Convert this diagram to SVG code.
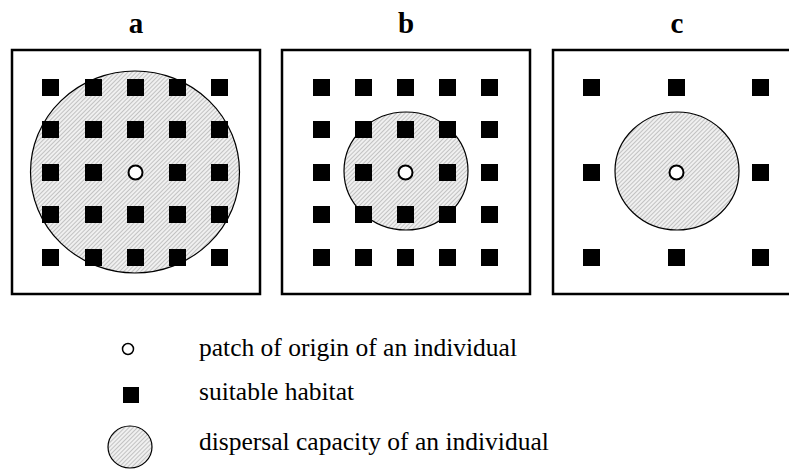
<svg xmlns="http://www.w3.org/2000/svg" width="789" height="469" viewBox="0 0 789 469">
  <defs>
    <pattern id="hatch" width="3" height="3" patternUnits="userSpaceOnUse" patternTransform="rotate(45)">
      <rect width="3" height="3" fill="#f0f0f0"/>
      <line x1="0" y1="0" x2="0" y2="3" stroke="#959595" stroke-width="1"/>
    </pattern>
    <rect id="sq" width="17" height="17" fill="#000"/>
  </defs>
  <style>
    .frame { fill: #fff; stroke: #000; stroke-width: 2.5; }
    .range { fill: url(#hatch); stroke: #000; stroke-width: 1.2; }
    .origin { fill: #fff; stroke: #000; stroke-width: 2; }
    .title { font-family: "Liberation Serif", "Times New Roman", serif; font-weight: bold; font-size: 29px; text-anchor: middle; fill: #000; }
    .key { font-family: "Liberation Serif", "Times New Roman", serif; font-size: 25.5px; fill: #000; }
  </style>
  <rect width="789" height="469" fill="#fff"/>

  <!-- panel a: large dispersal range -->
  <g id="panel-a">
    <text class="title" x="136" y="33">a</text>
    <rect class="frame" x="12" y="50" width="248" height="244"/>
    <ellipse class="range" cx="135" cy="172" rx="104.5" ry="101"/>
    <g>
      <use href="#sq" x="42" y="79"/><use href="#sq" x="85" y="79"/><use href="#sq" x="127" y="79"/><use href="#sq" x="169" y="79"/><use href="#sq" x="211" y="79"/>
      <use href="#sq" x="42" y="121"/><use href="#sq" x="85" y="121"/><use href="#sq" x="127" y="121"/><use href="#sq" x="169" y="121"/><use href="#sq" x="211" y="121"/>
      <use href="#sq" x="42" y="164"/><use href="#sq" x="85" y="164"/><use href="#sq" x="169" y="164"/><use href="#sq" x="211" y="164"/>
      <use href="#sq" x="42" y="206"/><use href="#sq" x="85" y="206"/><use href="#sq" x="127" y="206"/><use href="#sq" x="169" y="206"/><use href="#sq" x="211" y="206"/>
      <use href="#sq" x="42" y="249"/><use href="#sq" x="85" y="249"/><use href="#sq" x="127" y="249"/><use href="#sq" x="169" y="249"/><use href="#sq" x="211" y="249"/>
    </g>
    <circle class="origin" cx="135.5" cy="172.5" r="7"/>
  </g>

  <!-- panel b: smaller dispersal range, dense habitat -->
  <g id="panel-b">
    <text class="title" x="406" y="33">b</text>
    <rect class="frame" x="282" y="50" width="248" height="244"/>
    <ellipse class="range" cx="406" cy="171" rx="62" ry="59"/>
    <g>
      <use href="#sq" x="313" y="79"/><use href="#sq" x="355" y="79"/><use href="#sq" x="397" y="79"/><use href="#sq" x="439" y="79"/><use href="#sq" x="481" y="79"/>
      <use href="#sq" x="313" y="121"/><use href="#sq" x="355" y="121"/><use href="#sq" x="397" y="121"/><use href="#sq" x="439" y="121"/><use href="#sq" x="481" y="121"/>
      <use href="#sq" x="313" y="164"/><use href="#sq" x="355" y="164"/><use href="#sq" x="439" y="164"/><use href="#sq" x="481" y="164"/>
      <use href="#sq" x="313" y="206"/><use href="#sq" x="355" y="206"/><use href="#sq" x="397" y="206"/><use href="#sq" x="439" y="206"/><use href="#sq" x="481" y="206"/>
      <use href="#sq" x="313" y="249"/><use href="#sq" x="355" y="249"/><use href="#sq" x="397" y="249"/><use href="#sq" x="439" y="249"/><use href="#sq" x="481" y="249"/>
    </g>
    <circle class="origin" cx="405.5" cy="172.5" r="7"/>
  </g>

  <!-- panel c: smaller dispersal range, sparse habitat -->
  <g id="panel-c">
    <text class="title" x="677" y="33">c</text>
    <rect class="frame" x="553" y="50" width="248" height="244"/>
    <ellipse class="range" cx="677" cy="171" rx="62" ry="59"/>
    <g>
      <use href="#sq" x="583" y="79"/><use href="#sq" x="668" y="79"/><use href="#sq" x="752" y="79"/>
      <use href="#sq" x="583" y="164"/><use href="#sq" x="752" y="164"/>
      <use href="#sq" x="583" y="249"/><use href="#sq" x="668" y="249"/><use href="#sq" x="752" y="249"/>
    </g>
    <circle class="origin" cx="676.5" cy="172.5" r="7"/>
  </g>

  <!-- legend -->
  <g id="legend">
    <circle cx="128" cy="349" r="5.5" fill="#fff" stroke="#000" stroke-width="1.5"/>
    <text class="key" x="199" y="356">patch of origin of an individual</text>
    <rect x="123" y="387" width="16" height="16" fill="#000"/>
    <text class="key" x="199" y="400">suitable habitat</text>
    <ellipse class="range" cx="130" cy="447" rx="22" ry="21"/>
    <text class="key" x="199" y="450">dispersal capacity of an individual</text>
  </g>
</svg>
